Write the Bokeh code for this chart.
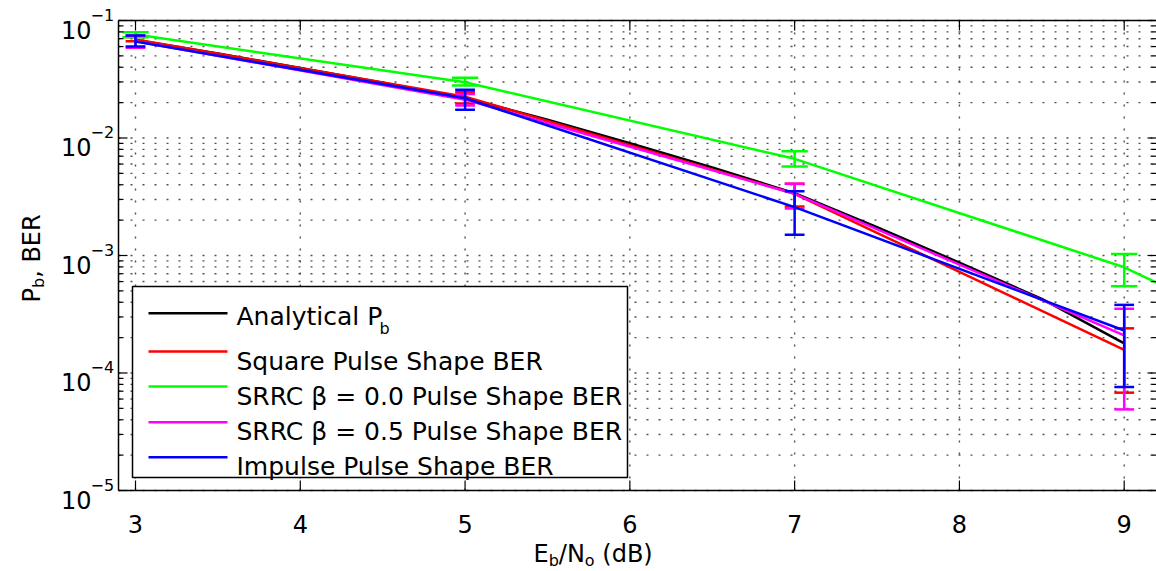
import math
from bokeh.plotting import figure
from bokeh.models import Label, BoxAnnotation
from bokeh.embed import file_html
from bokeh.resources import INLINE

# ---------------- data ----------------
ebno_theory = [3.0, 3.5, 4.0, 4.5, 5.0, 5.5, 6.0, 6.5, 7.0, 7.5, 8.0, 8.5, 9.0]
pb_theory = [0.0681, 0.0525, 0.0394, 0.0295, 0.0219, 0.0143, 0.00902,
             0.00562, 0.00339, 0.00174, 0.00087, 0.000427, 0.000179]

ebno_sim = [3, 5, 7, 9]
square_ber = [0.0689, 0.0225, 0.00335, 0.000157]
square_lo = [0.0665, 0.0197, 0.00261, 0.000068]
square_hi = [0.0725, 0.0245, 0.00407, 0.00024]

ebno_srrc0 = [3, 5, 7, 9, 11]
srrc0_ber = [0.076, 0.0298, 0.00665, 0.000794, 0.000037]
srrc0_lo = [0.072, 0.0280, 0.00571, 0.000548]
srrc0_hi = [0.0795, 0.0325, 0.00773, 0.00103]

srrc05_ber = [0.0665, 0.0212, 0.00335, 0.000209]
srrc05_lo = [0.0585, 0.0189, 0.00251, 0.000049]
srrc05_hi = [0.074, 0.0237, 0.00407, 0.000352]

impulse_ber = [0.0663, 0.0218, 0.00258, 0.00023]
impulse_lo = [0.060, 0.0174, 0.0015, 0.000076]
impulse_hi = [0.0745, 0.0257, 0.00352, 0.00038]

x_ticks = [3, 4, 5, 6, 7, 8, 9]
y_exponents = [-1, -2, -3, -4, -5]

legend_labels = ["Analytical P", "Square Pulse Shape BER",
                 "SRRC \u03b2 = 0.0 Pulse Shape BER",
                 "SRRC \u03b2 = 0.5 Pulse Shape BER",
                 "Impulse Pulse Shape BER"]
colors = ["#000000", "#ff0000", "#00ff00", "#ff00ff", "#0000ff"]

# ---------------- layout ----------------
W, H = 1156, 571
FL, FT, FR, FB = 118, 20, 1156, 490          # axes box in canvas pixels
X0, X1 = 2.8968, 9.196                       # axes x limits
Y0, Y1 = 1e-5, 1e-1                          # axes y limits
FONT = "DejaVu Sans"
LW = 2.5


def px2x(px):
    return X0 + (px - FL) / (FR - FL) * (X1 - X0)


def py2y(py):
    return 10 ** (-1 - (py - FT) / (FB - FT) * 4)


def y2py(v):
    return FT + (-1 - math.log10(v)) / 4 * (FB - FT)


# the Bokeh frame covers the whole canvas so that the outside texts are not clipped
p = figure(width=W, height=H, x_range=(px2x(0), px2x(W)),
           y_range=(py2y(H), py2y(0)), y_axis_type="log", title=None,
           output_backend="svg", toolbar_location=None,
           min_border=0, min_border_left=0, min_border_right=0,
           min_border_top=0, min_border_bottom=0)
p.outline_line_color = None
p.background_fill_color = "white"
p.border_fill_color = "white"
p.xaxis.visible = False
p.yaxis.visible = False
p.xgrid.visible = False
p.ygrid.visible = False

majors = [10.0 ** e for e in y_exponents]
minors = [m * 10.0 ** e for e in range(-5, -1) for m in range(2, 10)]
yall = majors + minors
nx, ny = len(x_ticks), len(yall)

# dotted grid
gd = dict(line_color="#505050", line_width=1.4, line_dash="2 10", level="underlay")
p.segment(x0=[X0] * ny, x1=[X1] * ny, y0=yall, y1=yall, **gd)
p.segment(x0=x_ticks, x1=x_ticks, y0=[Y1] * nx, y1=[Y0] * nx, **gd)

# ---------------- data lines ----------------
p.line(ebno_theory, pb_theory, line_color=colors[0], line_width=LW)


def series(x, y, lo, hi, color):
    p.line(x, y, line_color=color, line_width=LW)
    tee = (max(x) - min(x)) / 100.0
    xe = x[:len(lo)]
    p.segment(x0=xe, y0=lo, x1=xe, y1=hi, line_color=color, line_width=LW)
    p.segment(x0=[v - tee for v in xe], y0=lo, x1=[v + tee for v in xe], y1=lo,
              line_color=color, line_width=LW)
    p.segment(x0=[v - tee for v in xe], y0=hi, x1=[v + tee for v in xe], y1=hi,
              line_color=color, line_width=LW)


series(ebno_sim, square_ber, square_lo, square_hi, colors[1])
series(ebno_srrc0, srrc0_ber, srrc0_lo, srrc0_hi, colors[2])
series(ebno_sim, srrc05_ber, srrc05_lo, srrc05_hi, colors[3])
series(ebno_sim, impulse_ber, impulse_lo, impulse_hi, colors[4])

# ---------------- axes box and inward ticks ----------------
ax = dict(line_color="black", line_width=1.5, level="overlay")
p.segment(x0=[X0, X0, X0], x1=[X0, X1, X1], y0=[Y0, Y0, Y1], y1=[Y1, Y0, Y1], **ax)

tk = dict(line_color="black", line_width=1.2, level="overlay")
p.segment(x0=x_ticks, x1=x_ticks, y0=[Y0] * nx, y1=[py2y(FB - 10)] * nx, **tk)
p.segment(x0=x_ticks, x1=x_ticks, y0=[Y1] * nx, y1=[py2y(FT + 10)] * nx, **tk)
n, m = len(majors), len(minors)
p.segment(x0=[X0] * n, x1=[px2x(FL + 9)] * n, y0=majors, y1=majors, **tk)
p.segment(x0=[X0] * m, x1=[px2x(FL + 5)] * m, y0=minors, y1=minors, **tk)
p.segment(x0=[X1] * n, x1=[px2x(FR - 9)] * n, y0=majors, y1=majors, **tk)
p.segment(x0=[X1] * m, x1=[px2x(FR - 5)] * m, y0=minors, y1=minors, **tk)

# ---------------- tick labels ----------------
for t in x_ticks:
    p.add_layout(Label(x=t, y=py2y(523), text=str(t), text_align="center",
                       text_baseline="alphabetic", text_font=FONT,
                       text_font_size="24px", text_color="black"))
for e in y_exponents:
    ty = y2py(10.0 ** e)
    p.add_layout(Label(x=px2x(91), y=py2y(ty + 9), text="10", text_align="right",
                       text_baseline="alphabetic", text_font=FONT,
                       text_font_size="24px", text_color="black"))
    p.add_layout(Label(x=px2x(90), y=py2y(ty - 6), text="\u2212" + str(-e),
                       text_align="left", text_baseline="alphabetic",
                       text_font=FONT, text_font_size="16px", text_color="black"))

# ---------------- axis labels ----------------
xl_parts = [("E", 24, 0, 0), ("b", 16, 7, 0), ("/N", 24, 0, 0), ("o", 16, 7, 0),
            ("(dB)", 24, 0, 0.318 * 24)]
widths = {"E": 0.632 * 24, "b": 0.635 * 16, "/N": (0.337 + 0.748) * 24,
          "o": 0.612 * 16, "(dB)": 2.1 * 24}
cx = 533
for txt, fs, dy, gap in xl_parts:
    cx += gap
    p.add_layout(Label(x=px2x(cx), y=py2y(553 + dy), text=txt, text_align="left",
                       text_baseline="alphabetic", text_font=FONT,
                       text_font_size="%dpx" % fs, text_color="black"))
    cx += widths[txt]

yl_parts = [("P", 24, 0), ("b", 16, 7), (", BER", 24, 0)]
ywid = {"P": 0.603 * 24, "b": 0.635 * 16, ", BER": 2.649 * 24}
cy = 302
for txt, fs, dx in yl_parts:
    p.add_layout(Label(x=px2x(31 + dx), y=py2y(cy), text=txt, angle=math.pi / 2,
                       text_align="left", text_baseline="alphabetic",
                       text_font=FONT, text_font_size="%dpx" % fs,
                       text_color="black"))
    cy -= ywid[txt]

# ---------------- legend ----------------
p.add_layout(BoxAnnotation(left=px2x(132), right=px2x(627), top=py2y(286),
                           bottom=py2y(477), fill_color="white", fill_alpha=1.0,
                           line_color="black", line_alpha=1.0, line_width=1.5,
                           level="annotation"))
line_ys = [312.7, 351, 386, 421.7, 456.7]
base_ys = [316, 360.7, 395.7, 430.7, 465.7]
p.segment(x0=[px2x(148)] * 5, x1=[px2x(227)] * 5,
          y0=[py2y(v) for v in line_ys], y1=[py2y(v) for v in line_ys],
          line_color=colors, line_width=LW, level="overlay")
for lab, by in zip(legend_labels, base_ys):
    p.add_layout(Label(x=px2x(236), y=py2y(by), text=lab, text_align="left",
                       text_baseline="alphabetic", text_font=FONT,
                       text_font_size="25px", text_color="black", level="overlay"))
p.add_layout(Label(x=px2x(379), y=py2y(328), text="b", text_align="left",
                   text_baseline="alphabetic", text_font=FONT,
                   text_font_size="16px", text_color="black", level="overlay"))

open("out.html", "w").write(file_html(p, INLINE))
